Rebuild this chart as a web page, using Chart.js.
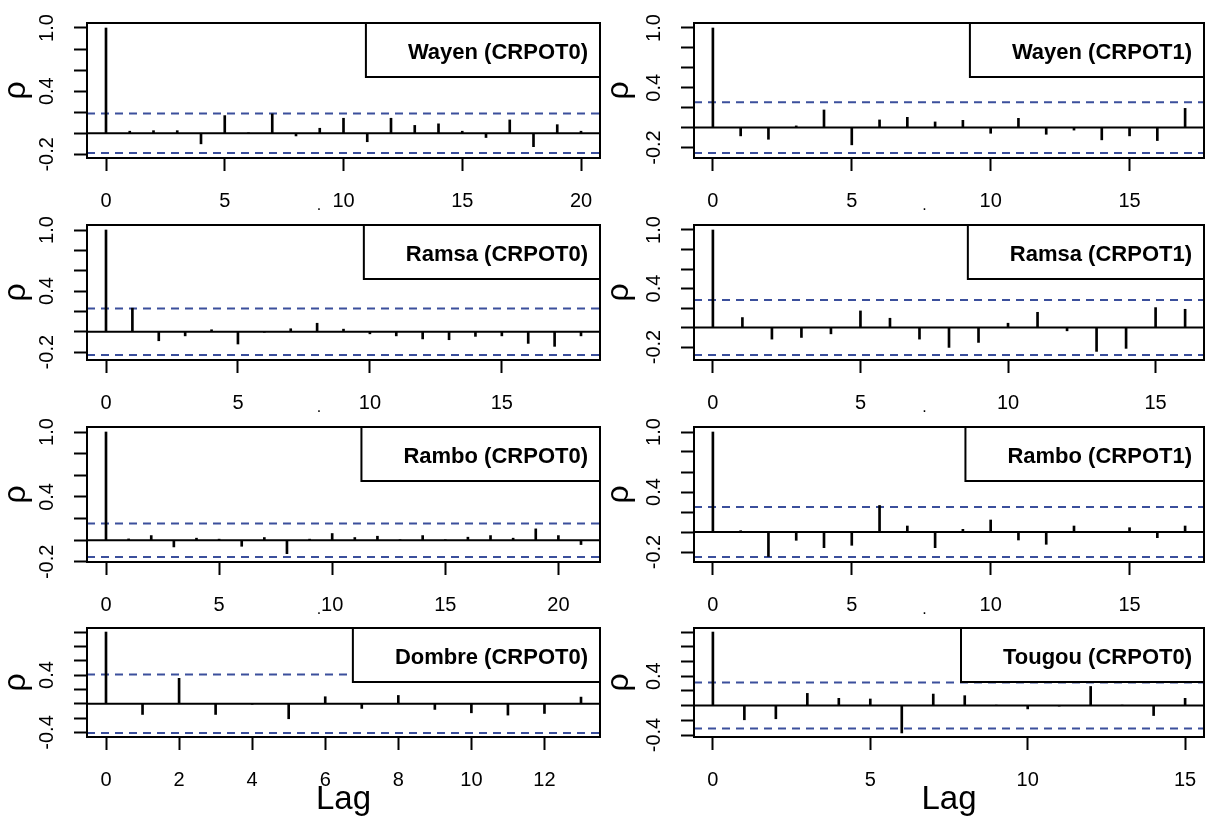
<!DOCTYPE html>
<html>
<head>
<meta charset="utf-8">
<script src="https://cdn.jsdelivr.net/npm/chart.js@4.4.1/dist/chart.umd.min.js"></script>
<style>
html, body { margin: 0; padding: 0; background: #fff; }
#wrap { position: relative; width: 1206px; height: 818px; overflow: hidden; background: #fff; }
#wrap canvas { position: absolute; }
</style>
</head>
<body>
<div id="wrap"></div>
<script>
// ---------- data ----------
const panelTitles = ['Wayen (CRPOT0)', 'Wayen (CRPOT1)', 'Ramsa (CRPOT0)', 'Ramsa (CRPOT1)',
                     'Rambo (CRPOT0)', 'Rambo (CRPOT1)', 'Dombre (CRPOT0)', 'Tougou (CRPOT0)'];

// autocorrelation at lags 0, 1, 2, ...
const acfWayenCRPOT0 = [1.0, 0.02, 0.025, 0.025, -0.10, 0.168, 0.005, 0.184, -0.025, 0.048, 0.143,
                        -0.08, 0.143, 0.075, 0.09, 0.02, -0.04, 0.127, -0.127, 0.082, 0.02];
const acfWayenCRPOT1 = [1.0, -0.083, -0.117, 0.017, 0.177, -0.173, 0.077, 0.103, 0.057, 0.073,
                        -0.057, 0.093, -0.067, -0.025, -0.123, -0.083, -0.13, 0.193];
const acfRamsaCRPOT0 = [1.0, 0.232, -0.088, -0.04, 0.02, -0.12, -0.005, 0.03, 0.084, 0.026,
                        -0.02, -0.04, -0.07, -0.078, -0.045, -0.04, -0.114, -0.143, -0.04];
const acfRamsaCRPOT1 = [1.0, 0.102, -0.119, -0.102, -0.065, 0.17, 0.095, -0.119, -0.204, -0.153,
                        0.044, 0.156, -0.034, -0.245, -0.214, 0.204, 0.187];
const acfRamboCRPOT0 = [1.0, 0.012, 0.043, -0.062, 0.019, 0.01, -0.056, 0.025, -0.124, 0.01, 0.062,
                        0.025, 0.037, 0.005, 0.043, 0.005, 0.028, 0.043, 0.019, 0.105, 0.043, -0.04];
const acfRamboCRPOT1 = [1.0, 0.013, -0.245, -0.083, -0.157, -0.133, 0.265, 0.06, -0.157, 0.027,
                        0.12, -0.08, -0.123, 0.06, 0.005, 0.043, -0.057, 0.06];
const acfDombreCRPOT0 = [1.0, -0.149, 0.355, -0.149, -0.005, -0.209, 0.098, -0.065, 0.116, -0.079,
                         -0.126, -0.158, -0.135, 0.093];
const acfTougouCRPOT0 = [1.0, -0.193, -0.179, 0.166, 0.099, 0.09, -0.372, 0.157, 0.135, 0.005,
                         -0.045, -0.005, 0.26, 0.005, -0.135, 0.099];

// 95% confidence bound (+/-) of each panel
const confLimits = [0.187, 0.255, 0.228, 0.282, 0.155, 0.25, 0.407, 0.313];

// axis ticks and titles
const xTickSteps = [5, 5, 5, 5, 5, 5, 2, 5];
const yTickStep = 0.2;
const yTickLabelsUpperRows = ['1.0', '0.4', '-0.2'];
const yTickLabelsBottomRow = ['0.4', '-0.4'];
const yAxisTitle = 'ρ';
const xAxisTitleUpperRows = '.';
const xAxisTitleBottomRow = 'Lag';

const panelSeries = [acfWayenCRPOT0, acfWayenCRPOT1, acfRamsaCRPOT0, acfRamsaCRPOT1,
                     acfRamboCRPOT0, acfRamboCRPOT1, acfDombreCRPOT0, acfTougouCRPOT0];

// ---------- layout / style ----------
const FONT = '"Liberation Sans", Arial, Helvetica, sans-serif';
const CI_COLOR = '#3b4f9c';
const rows = [
  { top: 0,   h: 215, boxTop: 23,  boxBottom: 158 },
  { top: 215, h: 202, boxTop: 225, boxBottom: 360 },
  { top: 417, h: 202, boxTop: 427, boxBottom: 562 },
  { top: 619, h: 199, boxTop: 628, boxBottom: 737 }
];
const cols = [
  { left: 0,   w: 603, boxLeft: 87,  boxRight: 600 },
  { left: 603, w: 603, boxLeft: 694, boxRight: 1204 }
];

const frameLegendPlugin = {
  id: 'frameLegend',
  afterDatasetsDraw(chart, args, opts) {
    const ctx = chart.ctx, a = chart.chartArea;
    ctx.save();
    ctx.font = 'bold 22px ' + FONT;
    const tw = ctx.measureText(opts.text).width;
    const lw = tw + 54, lh = 54;
    const lx = a.right - lw, ly = a.top;
    ctx.fillStyle = '#fff';
    ctx.fillRect(lx, ly, lw, lh);
    ctx.strokeStyle = '#000';
    ctx.lineWidth = 2;
    ctx.strokeRect(lx, ly, lw, lh);
    ctx.fillStyle = '#000';
    ctx.textAlign = 'right';
    ctx.textBaseline = 'middle';
    ctx.fillText(opts.text, a.right - 12, ly + 30);
    ctx.strokeRect(a.left, a.top, a.right - a.left, a.bottom - a.top);
    ctx.restore();
  }
};

const wrap = document.getElementById('wrap');

function makePanel(i) {
  const values = panelSeries[i];
  const clim = confLimits[i];
  const rowIdx = Math.floor(i / 2);
  const r = rows[rowIdx], c = cols[i % 2];
  const bottomRow = rowIdx === 3;

  const canvas = document.createElement('canvas');
  canvas.width = c.w; canvas.height = r.h;
  canvas.style.left = c.left + 'px'; canvas.style.top = r.top + 'px';
  canvas.style.width = c.w + 'px'; canvas.style.height = r.h + 'px';
  wrap.appendChild(canvas);

  // R-style axis limits (4% extension of the data range)
  const maxLag = values.length - 1;
  const xMin = -0.04 * maxLag, xMax = maxLag * 1.04;
  const lo = Math.min(-clim, Math.min(...values));
  const hi = Math.max(clim, Math.max(...values));
  const span = hi - lo;
  const yMin = lo - 0.04 * span, yMax = hi + 0.04 * span;

  const yLabels = bottomRow ? yTickLabelsBottomRow : yTickLabelsUpperRows;
  const xTitle = bottomRow
    ? { display: true, text: xAxisTitleBottomRow, color: '#000',
        font: { family: FONT, size: 33, lineHeight: 1.1 }, padding: { top: 0, bottom: 0 } }
    : { display: true, text: xAxisTitleUpperRows + '\u00a0'.repeat(11), color: '#000',
        font: { family: FONT, size: 16, lineHeight: 1 }, padding: { top: 0, bottom: 1 } };

  new Chart(canvas, {
    type: 'bar',
    data: {
      datasets: [
        { type: 'line', data: [{ x: xMin, y: clim }, { x: xMax, y: clim }],
          borderColor: CI_COLOR, borderWidth: 2, borderDash: [8, 6], pointRadius: 0, order: 3 },
        { type: 'line', data: [{ x: xMin, y: -clim }, { x: xMax, y: -clim }],
          borderColor: CI_COLOR, borderWidth: 2, borderDash: [8, 6], pointRadius: 0, order: 3 },
        { type: 'bar', data: values.map((v, k) => ({ x: k, y: v })),
          backgroundColor: '#000', borderWidth: 0, barThickness: 2, order: 2 },
        { type: 'line', data: [{ x: xMin, y: 0 }, { x: xMax, y: 0 }],
          borderColor: '#000', borderWidth: 2, pointRadius: 0, order: 1 }
      ]
    },
    options: {
      responsive: false,
      animation: false,
      devicePixelRatio: 1,
      events: [],
      layout: { padding: { top: r.boxTop - r.top, right: c.left + c.w - c.boxRight, left: 0, bottom: 0 } },
      plugins: {
        legend: { display: false },
        tooltip: { enabled: false },
        frameLegend: { text: panelTitles[i] }
      },
      scales: {
        x: {
          type: 'linear', position: 'bottom', min: xMin, max: xMax, offset: false,
          border: { display: false },
          grid: { display: true, offset: false, drawOnChartArea: false, drawTicks: true,
                  tickLength: 13, tickWidth: 2, tickColor: '#000' },
          ticks: { stepSize: xTickSteps[i], includeBounds: false, autoSkip: false,
                   maxRotation: 0, minRotation: 0, padding: 18, color: '#000',
                   font: { family: FONT, size: 20 }, callback: (v) => String(v) },
          title: xTitle,
          afterFit(s) { s.height = r.top + r.h - r.boxBottom; s.paddingLeft = 0; s.paddingRight = 0; }
        },
        y: {
          type: 'linear', position: 'left', min: yMin, max: yMax, beginAtZero: false,
          border: { display: false },
          grid: { display: true, drawOnChartArea: false, drawTicks: true,
                  tickLength: 13, tickWidth: 2, tickColor: '#000' },
          ticks: { stepSize: yTickStep, includeBounds: false, autoSkip: false,
                   minRotation: 90, maxRotation: 90, crossAlign: 'center', padding: 9,
                   color: '#000', font: { family: FONT, size: 20 },
                   callback: (v) => {
                     const s = (Math.abs(v) < 1e-9 ? 0 : v).toFixed(1);
                     return yLabels.includes(s) ? s : '';
                   } },
          title: { display: true, text: yAxisTitle, color: '#000',
                   font: { family: FONT, size: 32, lineHeight: 1 }, padding: { top: 0, bottom: 0 } },
          afterFit(s) { s.width = c.boxLeft - c.left; s.paddingTop = 0; s.paddingBottom = 0; }
        }
      }
    },
    plugins: [frameLegendPlugin]
  });
}

for (let i = 0; i < panelSeries.length; i++) makePanel(i);
</script>
</body>
</html>
